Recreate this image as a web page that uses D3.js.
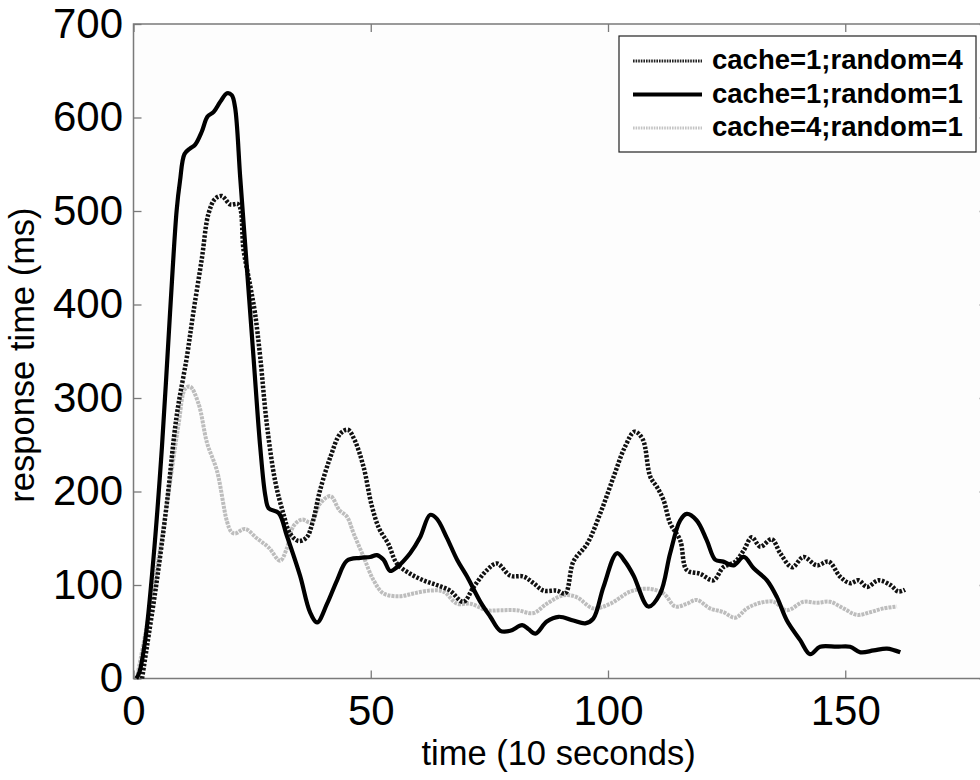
<!DOCTYPE html>
<html>
<head>
<meta charset="utf-8">
<script src="https://cdn.jsdelivr.net/npm/d3@7/dist/d3.min.js"></script>
<style>
  html, body { margin: 0; padding: 0; background: #fff; }
  svg { display: block; }
</style>
</head>
<body>
<svg id="chart" width="980" height="780"></svg>
<script>
// ---------------- data ----------------
const seriesNames = ["cache=1;random=4", "cache=1;random=1", "cache=4;random=1"];
const xTicks = [0, 50, 100, 150];
const yTicks = [0, 100, 200, 300, 400, 500, 600, 700];

// cache=1;random=4 (black dotted)
const timeR4 = [1.8, 2.8, 4.9, 7.0, 9.1, 11.25, 12.6, 14.4, 15.8, 17.2, 18.6, 20.4, 22.1, 23.2, 24.6, 25.6, 26.7, 28.1, 29.9, 31.6, 33.0, 34.8, 36.5, 37.8, 39.3, 41.5, 43.6, 45.2, 46.6, 48.5, 50.2, 51.8, 53.7, 55.5, 58.3, 61.1, 63.9, 66.7, 69.5, 71.7, 74.5, 76.6, 79.4, 82.2, 84.3, 86.4, 89.2, 91.0, 92.7, 95.6, 98.4, 101.2, 103.6, 105.6, 107.3, 108.9, 110.3, 111.7, 113.1, 115.2, 116.6, 119.4, 122.2, 124.3, 126.8, 128.6, 130.3, 132.1, 134.5, 136.3, 138.8, 141.2, 144.0, 146.5, 148.9, 151.0, 152.8, 154.6, 157.0, 159.5, 161.2, 162.6];
const respR4 = [0, 33, 104, 186, 281, 344, 391, 449, 497, 513, 516, 507, 507, 458, 420, 391, 344, 272, 210, 176, 155, 147, 151, 168, 201, 237, 262, 266, 255, 226, 185, 160, 144, 123, 112, 105, 100, 94, 82, 98, 116, 123, 110, 109, 102, 94, 94, 91, 125, 144, 177, 216, 248, 264, 256, 216, 205, 191, 166, 148, 116, 112, 105, 119, 125, 137, 151, 141, 149, 134, 119, 130, 121, 125, 109, 102, 105, 98, 105, 100, 93, 95];

// cache=1;random=1 (black solid)
const timeC1 = [0.6, 1.2, 2.5, 4.2, 6.0, 7.7, 9.1, 9.8, 10.75, 11.95, 13.0, 14.4, 15.6, 16.9, 18.3, 19.7, 20.7, 21.4, 22.5, 23.9, 25.3, 26.7, 27.8, 28.5, 30.6, 32.3, 35.1, 37.2, 38.7, 40.8, 42.9, 45.0, 47.8, 49.9, 51.3, 52.7, 54.1, 55.5, 58.3, 60.4, 62.5, 63.9, 66.0, 68.2, 70.3, 73.1, 75.2, 77.3, 79.4, 81.9, 83.2, 84.7, 87.1, 89.6, 92.7, 95.2, 96.9, 99.05, 101.9, 103.6, 105.4, 108.5, 111.0, 113.1, 115.2, 116.6, 118.7, 120.8, 122.6, 124.3, 126.5, 128.6, 130.7, 133.5, 135.6, 137.7, 140.5, 142.6, 144.7, 148.2, 151.0, 153.2, 156.0, 158.8, 161.6];
const respC1 = [0, 6, 42, 128, 248, 391, 501, 532, 561, 567, 571, 585, 601, 606, 617, 626, 624, 611, 535, 439, 343, 248, 195, 182, 177, 153, 110, 71, 60, 80, 105, 126, 129, 130, 132, 127, 115, 119, 134, 151, 175, 171, 151, 127, 109, 82, 66, 51, 51, 57, 53, 48, 61, 66, 62, 59, 64, 98, 134, 125, 110, 77, 91, 134, 169, 176, 169, 148, 127, 125, 121, 130, 118, 105, 87, 62, 41, 26, 34, 34, 34, 28, 30, 32, 28];

// cache=4;random=1 (light gray)
const timeC4 = [0.7, 2.8, 5.6, 7.7, 9.5, 10.9, 11.95, 13.7, 15.5, 17.6, 19.7, 20.6, 21.4, 23.5, 26.0, 28.5, 30.9, 32.3, 33.7, 35.5, 37.4, 39.3, 41.5, 43.4, 45.0, 46.4, 48.5, 50.6, 52.7, 56.2, 59.0, 62.5, 65.3, 68.2, 71.0, 74.5, 77.3, 80.8, 84.3, 87.1, 90.6, 93.4, 96.9, 100.5, 104.7, 108.5, 111.7, 114.2, 116.6, 118.7, 121.5, 124.3, 126.8, 129.3, 132.1, 134.9, 137.7, 141.2, 144.0, 146.8, 149.6, 152.5, 155.3, 158.1, 160.9];
const respC4 = [0, 56, 138, 210, 272, 310, 312, 294, 252, 222, 168, 157, 155, 160, 150, 140, 126, 139, 163, 170, 167, 187, 195, 180, 173, 155, 130, 105, 91, 88, 91, 94, 93, 80, 80, 73, 73, 73, 70, 80, 89, 87, 75, 80, 93, 96, 91, 77, 80, 84, 75, 71, 65, 75, 81, 82, 73, 82, 81, 82, 75, 68, 71, 75, 77];

// ---------------- drawing ----------------
(function () {
const svg = d3.select("#chart");
const pLeft = 133.5, pTop = 24, pRight = 987.6, pBottom = 678.5;
const x = d3.scaleLinear().domain([0, 180]).range([pLeft, pRight]);
const y = d3.scaleLinear().domain([0, 700]).range([pBottom, pTop]);
const axisColor = "#7a7a7a";
const font = "'Liberation Sans', Arial, Helvetica, sans-serif";

svg.append("rect").attr("x", 0).attr("y", 0).attr("width", 980).attr("height", 780).attr("fill", "#fff");
svg.append("rect").attr("x", pLeft).attr("y", pTop).attr("width", pRight - pLeft).attr("height", pBottom - pTop)
  .attr("fill", "#fdfdfd");

function styleAxis(g, showLabels) {
  g.select(".domain").remove();
  g.selectAll(".tick line").attr("stroke", axisColor).attr("stroke-width", 1.3);
  g.selectAll(".tick text").attr("fill", "#000").attr("font-family", font).attr("font-size", 42);
  if (!showLabels) g.selectAll(".tick text").remove();
}

svg.append("g").attr("transform", `translate(0,${pBottom})`)
  .call(d3.axisBottom(x).tickValues(xTicks).tickSizeInner(-8).tickSizeOuter(0).tickPadding(16.5))
  .call(g => styleAxis(g, true));
svg.append("g").attr("transform", `translate(0,${pTop})`)
  .call(d3.axisTop(x).tickValues(xTicks).tickSizeInner(-8).tickSizeOuter(0))
  .call(g => styleAxis(g, false));
svg.append("g").attr("transform", `translate(${pLeft},0)`)
  .call(d3.axisLeft(y).tickValues(yTicks).tickSizeInner(-8).tickSizeOuter(0).tickPadding(10.5))
  .call(g => styleAxis(g, true));
svg.append("g").attr("transform", `translate(${pRight},0)`)
  .call(d3.axisRight(y).tickValues(yTicks).tickSizeInner(-8).tickSizeOuter(0))
  .call(g => styleAxis(g, false));

// frame
svg.append("rect").attr("x", pLeft).attr("y", pTop).attr("width", pRight - pLeft).attr("height", pBottom - pTop)
  .attr("fill", "none").attr("stroke", axisColor).attr("stroke-width", 1.5);

// lines
const styles = [
  { stroke: "#111", width: 4.5, dash: "2.6,1.6" },
  { stroke: "#000", width: 4.2, dash: null },
  { stroke: "#bdbdbd", width: 4, dash: "3,1" }
];
const datasets = [
  d3.zip(timeR4, respR4),
  d3.zip(timeC1, respC1),
  d3.zip(timeC4, respC4)
];
const line = d3.line().x(d => x(d[0])).y(d => y(d[1])).curve(d3.curveCatmullRom.alpha(0.5));

svg.append("clipPath").attr("id", "clip").append("rect")
  .attr("x", pLeft).attr("y", pTop).attr("width", pRight - pLeft).attr("height", pBottom - pTop + 2);

[2, 0, 1].forEach(i => {
  svg.append("path")
    .datum(datasets[i])
    .attr("clip-path", "url(#clip)")
    .attr("d", line)
    .attr("fill", "none")
    .attr("stroke", styles[i].stroke)
    .attr("stroke-width", styles[i].width)
    .attr("stroke-linejoin", "round")
    .attr("stroke-dasharray", styles[i].dash);
});

// axis labels
svg.append("text").attr("x", (pLeft + pRight) / 2 - 2).attr("y", 765)
  .attr("text-anchor", "middle").attr("font-family", font).attr("font-size", 34.5)
  .text("time (10 seconds)");
svg.append("text").attr("transform", `translate(33.5,355) rotate(-90)`)
  .attr("text-anchor", "middle").attr("font-family", font).attr("font-size", 34.5)
  .text("response time (ms)");

// legend
const lg = svg.append("g");
lg.append("rect").attr("x", 619).attr("y", 36).attr("width", 357).attr("height", 116)
  .attr("fill", "#fff").attr("stroke", "#222").attr("stroke-width", 1.2);
const legendStyles = [
  { stroke: "#222", width: 3, dash: "1.6,1" },
  { stroke: "#000", width: 4.2, dash: null },
  { stroke: "#c4c4c4", width: 3, dash: "1.6,1" }
];
const rowY = d3.scalePoint().domain(seriesNames).range([61, 128]);
seriesNames.forEach((name, i) => {
  const ry = rowY(name);
  lg.append("line").attr("x1", 633).attr("x2", 702).attr("y1", ry).attr("y2", ry)
    .attr("stroke", legendStyles[i].stroke).attr("stroke-width", legendStyles[i].width)
    .attr("stroke-dasharray", legendStyles[i].dash);
  lg.append("text").attr("x", 712).attr("y", ry + 8)
    .attr("font-family", font).attr("font-weight", "bold").attr("font-size", 27.5)
    .attr("fill", "#000").text(name);
});
})();
</script>
</body>
</html>
